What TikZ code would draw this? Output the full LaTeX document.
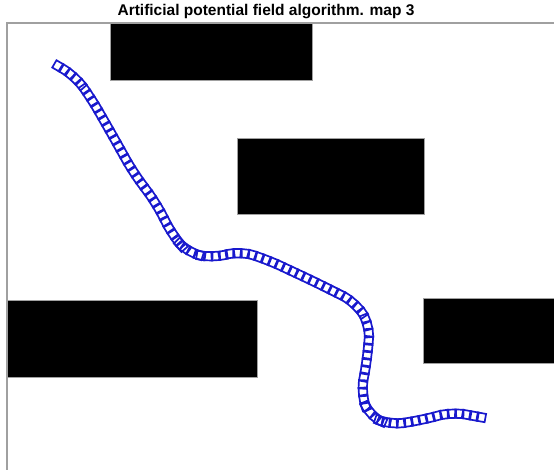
\documentclass[tikz,border=0pt]{standalone}
\usepackage{fontspec}
\setmainfont{Liberation Sans}
\usetikzlibrary{decorations.markings}

\definecolor{pathblue}{RGB}{25,25,205}
\definecolor{axisgray}{RGB}{160,160,160}

\begin{document}
\begin{tikzpicture}[
                        x=1pt,
                        y=-1pt,
                        wall/.style={fill=black,draw=axisgray,line width=0.6pt},
                        robotpath/.style={
                            rounded corners=14pt,
                            decoration={markings,
                                mark=between positions 0 and 1 step 7.4pt with
                                {\draw[pathblue,sharp corners,line width=1.7pt] (-4.2pt,-4.2pt) rectangle (4.2pt,4.2pt);}},
                            postaction={decorate}
                        }
                    ]
                    \useasboundingbox (0,0) rectangle (554,470);

                    % title of the map
                    \node[font=\bfseries\fontsize{15.5}{17}\selectfont] (title) at (266,12)
                        {Artificial potential field algorithm. map 3};

                    % axes frame (cut on the right and at the bottom)
                    \draw[axisgray,line width=1.4pt] (7,470) -- (7,23) -- (554,23);

                    % obstacles
                    \path[wall] (110,23)  rectangle (312,80);
                    \path[wall] (237,138) rectangle (424,214);
                    \path[wall] (7,300)   rectangle (257,377);
                    \path[wall] (423,298) rectangle (554,363);

                    % trajectory of the robot
                    \path[robotpath] (58,66) -- (75,76) -- (91,98) -- (110,131)
                        -- (133,172) -- (156,203) -- (173,236) -- (188,253) -- (213,258)
                        -- (240,251) -- (268,260) -- (315,282) -- (355,302) -- (370,325)
                        -- (367,360) -- (361,393) -- (369,416) -- (390,425) -- (422,420)
                        -- (452,412) -- (485,418);
                \end{tikzpicture}
\end{document}
